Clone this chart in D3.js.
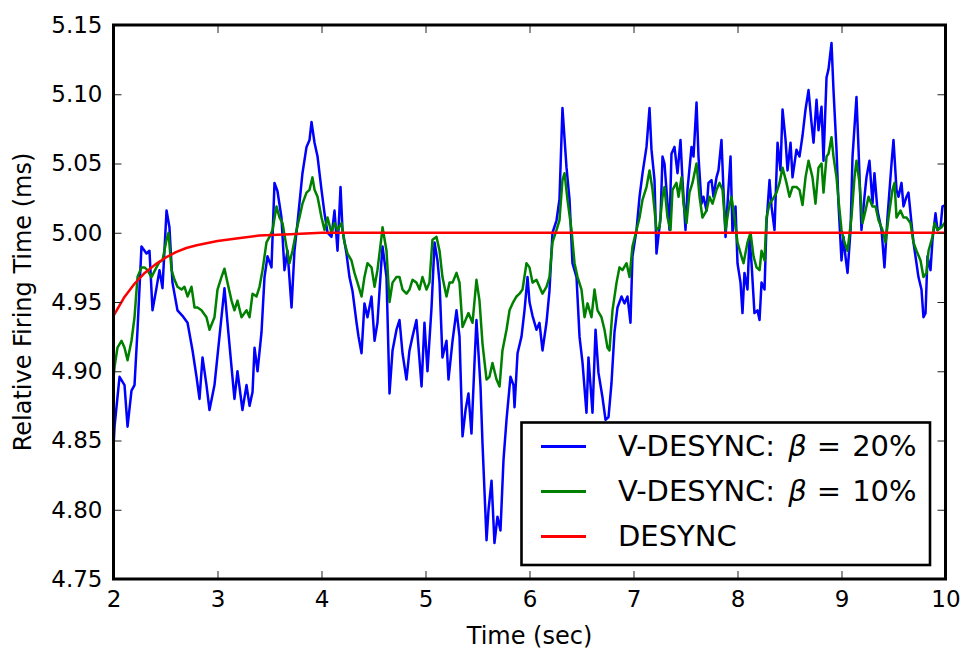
<!DOCTYPE html>
<html>
<head>
<meta charset="utf-8">
<script src="https://cdn.jsdelivr.net/npm/d3@7"></script>
<style>
  html, body { margin: 0; padding: 0; background: #fff; }
  svg text { font-family: "DejaVu Sans", sans-serif; fill: #000; }
</style>
</head>
<body>
<div id="chart"></div>
<script>
// tick values
const xTicks = [2, 3, 4, 5, 6, 7, 8, 9, 10];
const yTicks = [4.75, 4.80, 4.85, 4.90, 4.95, 5.00, 5.05, 5.10, 5.15];

// legend labels, in drawing order
const seriesLabels = ['V-DESYNC: ', 'V-DESYNC: ', 'DESYNC'];
const seriesBeta = ['20%', '10%', null];

// V-DESYNC, beta = 20%  [time (sec), relative firing time (ms)]
const vdesync20 = [
  [2.000, 4.845], [2.010, 4.860], [2.058, 4.896], [2.106, 4.890], [2.135, 4.860], [2.173, 4.886], [2.202, 4.890],
  [2.231, 4.930], [2.269, 4.990], [2.317, 4.985], [2.346, 4.987], [2.375, 4.944], [2.413, 4.960], [2.442, 4.973],
  [2.471, 4.960], [2.510, 5.016], [2.538, 5.004], [2.567, 4.964], [2.615, 4.944], [2.663, 4.940], [2.712, 4.935],
  [2.760, 4.915], [2.798, 4.896], [2.827, 4.880], [2.856, 4.910], [2.894, 4.890], [2.923, 4.872], [2.971, 4.890],
  [3.019, 4.925], [3.067, 4.960], [3.096, 4.935], [3.135, 4.903], [3.163, 4.880], [3.192, 4.900], [3.240, 4.872],
  [3.279, 4.890], [3.308, 4.875], [3.337, 4.885], [3.356, 4.917], [3.385, 4.900], [3.423, 4.928], [3.452, 4.968],
  [3.481, 4.983], [3.519, 4.975], [3.548, 5.036], [3.577, 5.030], [3.615, 5.011], [3.644, 4.973], [3.673, 4.987],
  [3.712, 4.946], [3.740, 4.987], [3.769, 5.007], [3.817, 5.043], [3.856, 5.062], [3.885, 5.067], [3.904, 5.080],
  [3.933, 5.065], [3.962, 5.055], [4.000, 5.031], [4.029, 5.014], [4.058, 5.000], [4.096, 4.997], [4.125, 5.016],
  [4.154, 4.987], [4.183, 5.033], [4.202, 5.002], [4.240, 4.985], [4.269, 4.968], [4.298, 4.958], [4.337, 4.935],
  [4.356, 4.925], [4.385, 4.913], [4.413, 4.949], [4.442, 4.939], [4.481, 4.954], [4.510, 4.922], [4.538, 4.935],
  [4.577, 4.980], [4.587, 4.990], [4.625, 4.968], [4.654, 4.884], [4.683, 4.915], [4.721, 4.930], [4.750, 4.937],
  [4.779, 4.913], [4.817, 4.894], [4.846, 4.915], [4.875, 4.925], [4.913, 4.937], [4.933, 4.917], [4.962, 4.889],
  [4.990, 4.935], [5.019, 4.900], [5.058, 4.946], [5.087, 4.993], [5.115, 4.980], [5.135, 4.964], [5.163, 4.910],
  [5.202, 4.922], [5.221, 4.894], [5.260, 4.922], [5.298, 4.944], [5.327, 4.925], [5.356, 4.853], [5.385, 4.872],
  [5.413, 4.884], [5.442, 4.855], [5.471, 4.906], [5.490, 4.937], [5.529, 4.889], [5.548, 4.848], [5.587, 4.778],
  [5.606, 4.800], [5.635, 4.821], [5.663, 4.776], [5.692, 4.795], [5.721, 4.785], [5.750, 4.836], [5.779, 4.865],
  [5.817, 4.896], [5.846, 4.890], [5.856, 4.874], [5.885, 4.913], [5.923, 4.925], [5.952, 4.944], [5.981, 4.968],
  [6.000, 4.950], [6.029, 4.940], [6.067, 4.930], [6.096, 4.935], [6.125, 4.915], [6.163, 4.935], [6.192, 4.958],
  [6.221, 5.000], [6.260, 5.009], [6.288, 5.024], [6.317, 5.090], [6.356, 5.047], [6.385, 5.024], [6.413, 4.978],
  [6.452, 4.968], [6.481, 4.925], [6.510, 4.906], [6.548, 4.870], [6.567, 4.910], [6.606, 4.870], [6.635, 4.930],
  [6.663, 4.899], [6.702, 4.881], [6.731, 4.865], [6.760, 4.867], [6.788, 4.891], [6.817, 4.928], [6.846, 4.946],
  [6.885, 4.954], [6.913, 4.949], [6.942, 4.954], [6.971, 4.935], [6.990, 4.983], [7.029, 5.002], [7.058, 5.026],
  [7.087, 5.043], [7.125, 5.062], [7.154, 5.090], [7.173, 5.060], [7.202, 5.038], [7.221, 4.985], [7.260, 5.011],
  [7.279, 5.055], [7.298, 5.050], [7.327, 5.021], [7.346, 5.002], [7.365, 5.057], [7.394, 5.062], [7.423, 5.043],
  [7.452, 5.067], [7.471, 5.038], [7.500, 5.002], [7.519, 5.031], [7.558, 5.062], [7.577, 5.055], [7.606, 5.094],
  [7.625, 5.055], [7.654, 5.021], [7.673, 5.026], [7.702, 5.016], [7.721, 5.036], [7.750, 5.038], [7.769, 5.026],
  [7.798, 5.040], [7.817, 5.045], [7.846, 5.067], [7.865, 5.031], [7.885, 4.997], [7.904, 5.021], [7.933, 5.055],
  [7.952, 5.000], [7.981, 5.019], [8.000, 4.978], [8.029, 4.964], [8.048, 4.942], [8.067, 4.971], [8.096, 4.959],
  [8.115, 4.997], [8.135, 4.978], [8.163, 4.942], [8.192, 4.944], [8.212, 4.937], [8.231, 4.964], [8.260, 4.959],
  [8.279, 5.007], [8.308, 5.038], [8.327, 5.019], [8.356, 5.002], [8.385, 5.065], [8.413, 5.045], [8.433, 5.089],
  [8.462, 5.067], [8.481, 5.045], [8.510, 5.065], [8.529, 5.040], [8.567, 5.060], [8.596, 5.055], [8.625, 5.070],
  [8.654, 5.089], [8.683, 5.103], [8.712, 5.079], [8.731, 5.065], [8.760, 5.096], [8.779, 5.074], [8.808, 5.091],
  [8.827, 5.052], [8.856, 5.112], [8.875, 5.118], [8.904, 5.137], [8.923, 5.103], [8.952, 5.060], [8.971, 5.021],
  [9.000, 4.980], [9.019, 4.997], [9.038, 4.983], [9.058, 4.971], [9.087, 5.002], [9.106, 5.055], [9.144, 5.098],
  [9.163, 5.062], [9.192, 5.002], [9.221, 5.026], [9.240, 5.040], [9.269, 5.052], [9.298, 5.021], [9.317, 5.043],
  [9.346, 5.016], [9.385, 5.002], [9.413, 4.975], [9.442, 5.011], [9.481, 5.050], [9.500, 5.067], [9.529, 5.031],
  [9.548, 5.026], [9.577, 5.036], [9.596, 5.019], [9.625, 5.026], [9.644, 5.029], [9.673, 5.007], [9.692, 4.993],
  [9.721, 4.978], [9.740, 4.968], [9.769, 4.959], [9.788, 4.939], [9.808, 4.942], [9.827, 4.983], [9.856, 4.973],
  [9.875, 4.995], [9.904, 5.014], [9.923, 5.002], [9.952, 5.004], [9.971, 5.019], [10.000, 5.020]
];

// V-DESYNC, beta = 10%
const vdesync10 = [
  [2.000, 4.895], [2.010, 4.903], [2.038, 4.917], [2.077, 4.922], [2.106, 4.917], [2.135, 4.908], [2.173, 4.922],
  [2.202, 4.939], [2.231, 4.968], [2.269, 4.975], [2.298, 4.975], [2.327, 4.973], [2.365, 4.968], [2.413, 4.975],
  [2.442, 4.979], [2.471, 4.980], [2.510, 4.995], [2.529, 5.000], [2.558, 4.973], [2.587, 4.966], [2.615, 4.961],
  [2.654, 4.959], [2.683, 4.961], [2.712, 4.954], [2.750, 4.961], [2.779, 4.946], [2.808, 4.946], [2.846, 4.944],
  [2.894, 4.939], [2.923, 4.930], [2.971, 4.939], [3.000, 4.959], [3.038, 4.968], [3.067, 4.974], [3.096, 4.964],
  [3.135, 4.951], [3.163, 4.944], [3.192, 4.951], [3.231, 4.939], [3.279, 4.944], [3.308, 4.939], [3.337, 4.956],
  [3.375, 4.954], [3.404, 4.961], [3.433, 4.973], [3.471, 4.993], [3.500, 4.997], [3.529, 5.002], [3.567, 5.019],
  [3.596, 5.011], [3.625, 5.007], [3.663, 4.990], [3.692, 4.978], [3.721, 4.987], [3.760, 5.002], [3.788, 5.011],
  [3.817, 5.021], [3.856, 5.029], [3.885, 5.031], [3.913, 5.040], [3.933, 5.031], [3.962, 5.026], [4.000, 5.011],
  [4.029, 5.002], [4.058, 5.011], [4.096, 5.000], [4.125, 5.007], [4.154, 5.002], [4.192, 5.007], [4.221, 4.993],
  [4.250, 4.985], [4.288, 4.980], [4.317, 4.971], [4.346, 4.964], [4.385, 4.954], [4.413, 4.968], [4.442, 4.978],
  [4.481, 4.975], [4.510, 4.961], [4.538, 4.973], [4.577, 4.997], [4.587, 5.004], [4.625, 4.987], [4.654, 4.950],
  [4.683, 4.964], [4.721, 4.968], [4.750, 4.968], [4.779, 4.959], [4.817, 4.956], [4.846, 4.959], [4.875, 4.966],
  [4.913, 4.964], [4.942, 4.959], [4.971, 4.968], [5.010, 4.959], [5.038, 4.964], [5.067, 4.995], [5.106, 4.997],
  [5.135, 4.987], [5.163, 4.968], [5.202, 4.954], [5.231, 4.964], [5.260, 4.964], [5.298, 4.971], [5.327, 4.964],
  [5.356, 4.932], [5.385, 4.937], [5.413, 4.942], [5.452, 4.935], [5.490, 4.966], [5.519, 4.951], [5.548, 4.920],
  [5.587, 4.894], [5.615, 4.896], [5.644, 4.906], [5.683, 4.894], [5.712, 4.889], [5.740, 4.915], [5.779, 4.930],
  [5.808, 4.944], [5.837, 4.949], [5.875, 4.954], [5.904, 4.956], [5.933, 4.959], [5.971, 4.978], [6.000, 4.975],
  [6.029, 4.964], [6.067, 4.966], [6.096, 4.961], [6.125, 4.956], [6.163, 4.961], [6.192, 4.968], [6.221, 4.993],
  [6.260, 5.002], [6.288, 5.009], [6.317, 5.038], [6.337, 5.043], [6.365, 5.024], [6.404, 5.002], [6.433, 4.978],
  [6.462, 4.968], [6.500, 4.959], [6.529, 4.939], [6.558, 4.949], [6.596, 4.939], [6.625, 4.959], [6.654, 4.944],
  [6.692, 4.939], [6.721, 4.930], [6.750, 4.917], [6.769, 4.915], [6.798, 4.944], [6.837, 4.964], [6.865, 4.975],
  [6.894, 4.973], [6.933, 4.978], [6.962, 4.968], [6.990, 4.990], [7.029, 5.002], [7.058, 5.011], [7.087, 5.024],
  [7.125, 5.033], [7.154, 5.045], [7.183, 5.031], [7.221, 5.002], [7.250, 5.004], [7.279, 5.026], [7.298, 5.033],
  [7.327, 5.011], [7.356, 5.002], [7.375, 5.031], [7.413, 5.036], [7.433, 5.026], [7.462, 5.040], [7.481, 5.021],
  [7.510, 5.007], [7.538, 5.029], [7.567, 5.036], [7.606, 5.050], [7.635, 5.026], [7.663, 5.011], [7.702, 5.016],
  [7.731, 5.026], [7.760, 5.021], [7.798, 5.031], [7.827, 5.036], [7.856, 5.031], [7.885, 5.002], [7.913, 5.016],
  [7.942, 5.026], [7.971, 5.011], [8.000, 4.993], [8.038, 4.983], [8.058, 4.978], [8.096, 4.993], [8.125, 5.000],
  [8.154, 4.983], [8.183, 4.975], [8.212, 4.973], [8.231, 4.987], [8.260, 4.980], [8.279, 5.011], [8.308, 5.021],
  [8.337, 5.024], [8.375, 5.029], [8.404, 5.036], [8.433, 5.047], [8.471, 5.036], [8.500, 5.026], [8.529, 5.033],
  [8.567, 5.033], [8.596, 5.031], [8.625, 5.020], [8.654, 5.040], [8.683, 5.052], [8.721, 5.040], [8.750, 5.021],
  [8.779, 5.047], [8.808, 5.050], [8.827, 5.029], [8.856, 5.055], [8.875, 5.057], [8.904, 5.069], [8.923, 5.055],
  [8.952, 5.040], [8.971, 5.024], [9.000, 5.002], [9.029, 4.993], [9.058, 4.987], [9.096, 5.011], [9.125, 5.040],
  [9.144, 5.052], [9.173, 5.036], [9.202, 5.007], [9.231, 5.016], [9.260, 5.026], [9.298, 5.019], [9.327, 5.019],
  [9.356, 5.009], [9.394, 5.002], [9.423, 4.993], [9.452, 5.011], [9.490, 5.031], [9.510, 5.036], [9.529, 5.011],
  [9.567, 5.016], [9.596, 5.011], [9.625, 5.011], [9.663, 5.007], [9.692, 4.993], [9.721, 4.987], [9.760, 4.980],
  [9.788, 4.968], [9.817, 4.971], [9.837, 4.987], [9.875, 4.997], [9.894, 5.007], [9.923, 5.002], [9.962, 5.004],
  [10.000, 5.008]
];

// DESYNC
const desync = [
  [2.0, 4.940], [2.1, 4.953], [2.2, 4.963], [2.3, 4.971], [2.4, 4.977], [2.5, 4.982], [2.6, 4.986],
  [2.7, 4.989], [2.8, 4.991], [3.0, 4.994], [3.2, 4.996], [3.4, 4.998], [3.7, 4.999], [4.0, 5.000],
  [10.0, 5.000]
];

/**
 * Line chart of the relative firing time.
 *
 * @class FiringTimeChart
 */
class FiringTimeChart {

  /**
   * @constructor
   * @param {String} selector Id of the parental element.
   */
  constructor(selector) {
    this.element = d3.select('#' + selector);
    this.initialize();
    this.update();
  }

  /**
   * Sets the default values.
   */
  initialize() {
    this.width = 965;
    this.height = 650;
    this.margin = {top: 25, right: 19.5, bottom: 71, left: 113.5};
    this.colors = ['#0000ff', '#008000', '#ff0000'];
    this.datasets = [vdesync20, vdesync10, desync];
  }

  update() {
    this.createSVG();
    this.createScales();
    this.renderLines();
    this.renderAxis();
    this.renderLabels();
    this.renderLegend();
  }

  createSVG() {
    this.element.selectAll('svg').remove();
    this.svg = this.element
      .append('svg')
      .attr('width', this.width)
      .attr('height', this.height)
      .attr('viewBox', `0 0 ${this.width} ${this.height}`);
  }

  /**
   * Creates scales for time and firing time.
   */
  createScales() {
    let margin = this.margin;
    this.xChart = d3.scaleLinear()
      .domain([2, 10])
      .range([margin.left, this.width - margin.right]);

    this.yChart = d3.scaleLinear()
      .domain([4.75, 5.15])
      .range([this.height - margin.bottom, margin.top]);
  }

  /**
   *
   */
  renderLines() {
    let [x0, x1] = this.xChart.range();
    let [y1, y0] = this.yChart.range();

    this.svg.append('clipPath')
      .attr('id', 'plot-clip')
      .append('rect')
      .attr('x', x0)
      .attr('y', y0)
      .attr('width', x1 - x0)
      .attr('height', y1 - y0);

    let line = d3.line()
      .x((d) => this.xChart(d[0]))
      .y((d) => this.yChart(d[1]));

    this.svg.append('g')
      .attr('clip-path', 'url(#plot-clip)')
      .selectAll('path')
      .data(this.datasets)
      .enter()
      .append('path')
      .attr('fill', 'none')
      .attr('stroke', (d, i) => this.colors[i])
      .attr('stroke-width', 2.5)
      .attr('stroke-linejoin', 'round')
      .attr('d', line);
  }

  /**
   * Inward ticks on all four sides, plus the frame.
   */
  renderAxis() {
    let [x0, x1] = this.xChart.range();
    let [y1, y0] = this.yChart.range();
    let tick = 8;

    let styleAxis = (g) => {
      g.select('.domain').remove();
      g.selectAll('.tick line').attr('stroke', '#222').attr('stroke-width', 1);
      g.selectAll('.tick text')
        .attr('font-family', '"DejaVu Sans", sans-serif')
        .attr('font-size', 23)
        .attr('fill', '#000');
    };

    this.svg.append('g')
      .attr('transform', `translate(0,${y1})`)
      .call(d3.axisBottom(this.xChart).tickValues(xTicks).tickSizeInner(-tick).tickSizeOuter(0)
        .tickPadding(12).tickFormat(d3.format('d')))
      .call(styleAxis);

    this.svg.append('g')
      .attr('transform', `translate(0,${y0})`)
      .call(d3.axisTop(this.xChart).tickValues(xTicks).tickSizeInner(-tick).tickSizeOuter(0).tickFormat(''))
      .call(styleAxis);

    this.svg.append('g')
      .attr('transform', `translate(${x0},0)`)
      .call(d3.axisLeft(this.yChart).tickValues(yTicks).tickSizeInner(-tick).tickSizeOuter(0)
        .tickPadding(11).tickFormat(d3.format('.2f')))
      .call(styleAxis);

    this.svg.append('g')
      .attr('transform', `translate(${x1},0)`)
      .call(d3.axisRight(this.yChart).tickValues(yTicks).tickSizeInner(-tick).tickSizeOuter(0).tickFormat(''))
      .call(styleAxis);

    this.svg.append('rect')
      .attr('x', x0)
      .attr('y', y0)
      .attr('width', x1 - x0)
      .attr('height', y1 - y0)
      .attr('fill', 'none')
      .attr('stroke', '#000')
      .attr('stroke-width', 3);
  }

  renderLabels() {
    let [x0, x1] = this.xChart.range();
    let [y1, y0] = this.yChart.range();

    this.svg.append('text')
      .attr('x', (x0 + x1) / 2)
      .attr('y', 644)
      .attr('text-anchor', 'middle')
      .attr('font-size', 24)
      .text('Time (sec)');

    this.svg.append('text')
      .attr('transform', `translate(31,${(y0 + y1) / 2}) rotate(-90)`)
      .attr('text-anchor', 'middle')
      .attr('font-size', 24)
      .text('Relative Firing Time (ms)');
  }

  /**
   * Legend in the lower right corner.
   */
  renderLegend() {
    let box = {x: 521.5, y: 422.5, width: 408.5, height: 142.5};
    let rowStep = 45;

    let legend = this.svg.append('g');
    legend.append('rect')
      .attr('x', box.x)
      .attr('y', box.y)
      .attr('width', box.width)
      .attr('height', box.height)
      .attr('fill', '#fff')
      .attr('stroke', '#000')
      .attr('stroke-width', 2.6);

    let rows = legend.selectAll('g.row')
      .data(seriesLabels)
      .enter()
      .append('g')
      .attr('class', 'row')
      .attr('transform', (d, i) => `translate(${box.x},${box.y + 24 + i * rowStep})`);

    rows.append('line')
      .attr('x1', 19.5)
      .attr('x2', 64.5)
      .attr('stroke', (d, i) => this.colors[i])
      .attr('stroke-width', 3);

    let text = rows.append('text')
      .attr('x', 96.5)
      .attr('y', 9)
      .attr('font-size', 29);

    text.append('tspan').text((d) => d);
    text.each(function (d, i) {
      if (seriesBeta[i] === null) return;
      let t = d3.select(this);
      t.append('tspan').attr('dx', 4).attr('font-style', 'italic').text('β');
      t.append('tspan').attr('dx', 10).text('=');
      t.append('tspan').attr('dx', 11).text(seriesBeta[i]);
    });
  }
}

new FiringTimeChart('chart');
</script>
</body>
</html>
